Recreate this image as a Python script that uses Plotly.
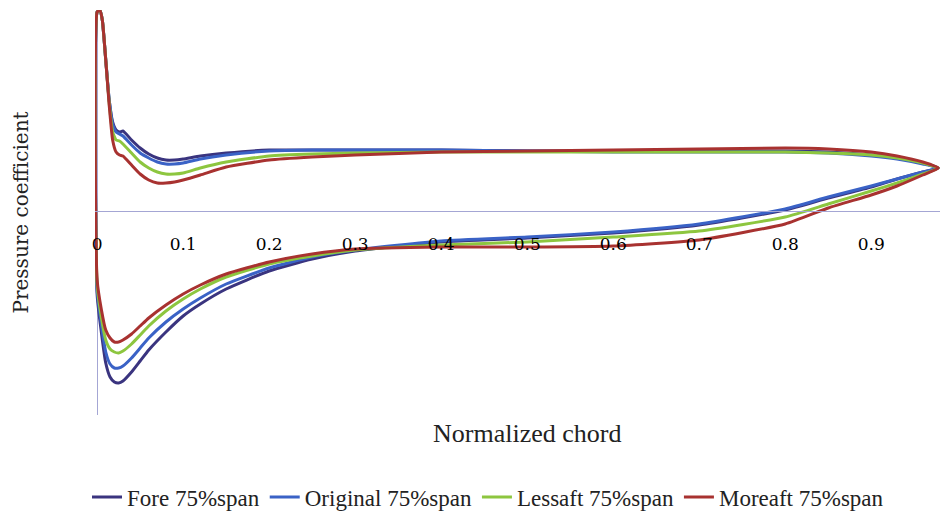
import plotly.graph_objects as go

# Normalized chord positions (upper / suction side, leading edge -> trailing edge)
x_upper = [0, 0.003, 0.006, 0.01, 0.014, 0.018, 0.022, 0.026, 0.03, 0.04, 0.05, 0.06,
           0.07, 0.08, 0.09, 0.1, 0.12, 0.15, 0.2, 0.25, 0.3, 0.4, 0.5, 0.6, 0.7, 0.8,
           0.85, 0.9, 0.93, 0.96, 0.978]
# Lower / pressure side
x_lower = [0, 0.005, 0.01, 0.015, 0.02, 0.025, 0.03, 0.04, 0.05, 0.06, 0.08, 0.1,
           0.12, 0.15, 0.2, 0.25, 0.3, 0.4, 0.5, 0.6, 0.7, 0.8, 0.85, 0.9, 0.93, 0.96, 0.978]

# Pressure coefficient values (arbitrary units, axis unlabeled in original)
fore_upper = [1.99, 2.01, 1.91, 1.51, 1.11, 0.89, 0.81, 0.79, 0.80, 0.71, 0.63, 0.57,
              0.53, 0.51, 0.51, 0.52, 0.55, 0.58, 0.61, 0.61, 0.61, 0.61, 0.60, 0.60,
              0.60, 0.60, 0.59, 0.56, 0.53, 0.48, 0.43]
fore_lower = [-0.84, -1.22, -1.52, -1.66, -1.71, -1.72, -1.70, -1.61, -1.50, -1.39, -1.21,
              -1.05, -0.93, -0.78, -0.60, -0.48, -0.40, -0.31, -0.27, -0.22, -0.14, 0.01,
              0.13, 0.24, 0.32, 0.39, 0.43]

orig_upper = [1.99, 2.01, 1.91, 1.51, 1.11, 0.87, 0.79, 0.77, 0.75, 0.66, 0.58, 0.53,
              0.49, 0.47, 0.47, 0.48, 0.52, 0.56, 0.60, 0.61, 0.61, 0.61, 0.60, 0.59,
              0.59, 0.59, 0.58, 0.55, 0.52, 0.47, 0.43]
orig_lower = [-0.79, -1.14, -1.41, -1.53, -1.57, -1.57, -1.55, -1.47, -1.37, -1.27, -1.11,
              -0.98, -0.87, -0.73, -0.57, -0.46, -0.39, -0.30, -0.26, -0.21, -0.13, 0.02,
              0.14, 0.25, 0.32, 0.39, 0.43]

less_upper = [1.99, 2.01, 1.91, 1.51, 1.08, 0.79, 0.71, 0.70, 0.67, 0.58, 0.49, 0.43,
              0.39, 0.37, 0.37, 0.38, 0.43, 0.49, 0.55, 0.57, 0.58, 0.59, 0.59, 0.59,
              0.59, 0.59, 0.58, 0.56, 0.53, 0.48, 0.43]
less_lower = [-0.74, -1.07, -1.29, -1.38, -1.41, -1.42, -1.40, -1.33, -1.24, -1.15, -1.00,
              -0.88, -0.78, -0.66, -0.53, -0.45, -0.39, -0.34, -0.31, -0.26, -0.20, -0.06,
              0.07, 0.20, 0.28, 0.37, 0.43]

more_upper = [1.99, 2.01, 1.91, 1.51, 1.06, 0.71, 0.59, 0.56, 0.55, 0.46, 0.37, 0.31,
              0.28, 0.28, 0.29, 0.31, 0.36, 0.44, 0.51, 0.54, 0.56, 0.59, 0.60, 0.61,
              0.62, 0.63, 0.62, 0.59, 0.55, 0.49, 0.43]
more_lower = [-0.69, -0.99, -1.19, -1.27, -1.31, -1.31, -1.29, -1.23, -1.15, -1.07, -0.94,
              -0.83, -0.74, -0.63, -0.51, -0.43, -0.38, -0.36, -0.36, -0.35, -0.29, -0.13,
              0.03, 0.16, 0.25, 0.36, 0.43]

series_names = ["Fore 75%span", "Original 75%span", "Lessaft 75%span", "Moreaft 75%span"]
series_upper = [fore_upper, orig_upper, less_upper, more_upper]
series_lower = [fore_lower, orig_lower, less_lower, more_lower]
series_colors = ["#3a347f", "#3a62c6", "#8dc63f", "#a83230"]

tick_vals = [0, 0.1, 0.2, 0.3, 0.4, 0.5, 0.6, 0.7, 0.8, 0.9]
tick_text = ["0", "0.1", "0.2", "0.3", "0.4", "0.5", "0.6", "0.7", "0.8", "0.9"]

fig = go.Figure()
for name, up, lo, col in zip(series_names, series_upper, series_lower, series_colors):
    xs = list(reversed(x_upper)) + x_lower
    ys = list(reversed(up)) + lo
    fig.add_trace(go.Scatter(x=xs, y=ys, mode="lines", name=name,
                             line=dict(color=col, width=3, shape="spline", smoothing=0.5)))

y_min, y_max = -2.04, 2.01
axis_col = "#a4a6d4"

fig.update_layout(
    width=941, height=514,
    margin=dict(l=95, r=1, t=10, b=99),
    plot_bgcolor="white", paper_bgcolor="white",
    font=dict(family="Liberation Serif", color="#222222"),
    xaxis=dict(range=[-0.0025, 0.98], showgrid=False, zeroline=True, zerolinecolor=axis_col,
               zerolinewidth=1, showline=True, linecolor=axis_col, linewidth=1,
               anchor="free", position=(0 - y_min) / (y_max - y_min),
               tickvals=tick_vals, ticktext=tick_text, ticks="",
               ticklabelstandoff=18,
               tickfont=dict(family="DejaVu Serif", size=17, color="#000000")),
    yaxis=dict(range=[y_min, y_max], showgrid=False, zeroline=False, showline=False,
               showticklabels=False, ticks=""),
    legend=dict(orientation="h", xref="container", yref="container",
                x=488 / 941, xanchor="center", y=1 - 497 / 514, yanchor="middle",
                font=dict(family="Liberation Serif", size=23, color="#222222"),
                tracegroupgap=0),
    showlegend=True,
)

fig.add_annotation(text="Normalized chord", xref="paper", yref="paper",
                   x=(527 - 95) / 845, y=-18 / 405, xanchor="center", yanchor="middle",
                   showarrow=False,
                   font=dict(family="Liberation Serif", size=26, color="#222222"))
fig.add_annotation(text="Pressure coefficient", xref="paper", yref="paper",
                   x=(20 - 95) / 845, y=0.5, xanchor="center", yanchor="middle",
                   textangle=-90, showarrow=False,
                   font=dict(family="DejaVu Serif", size=20, color="#222222"))

fig.write_html("out.html")
